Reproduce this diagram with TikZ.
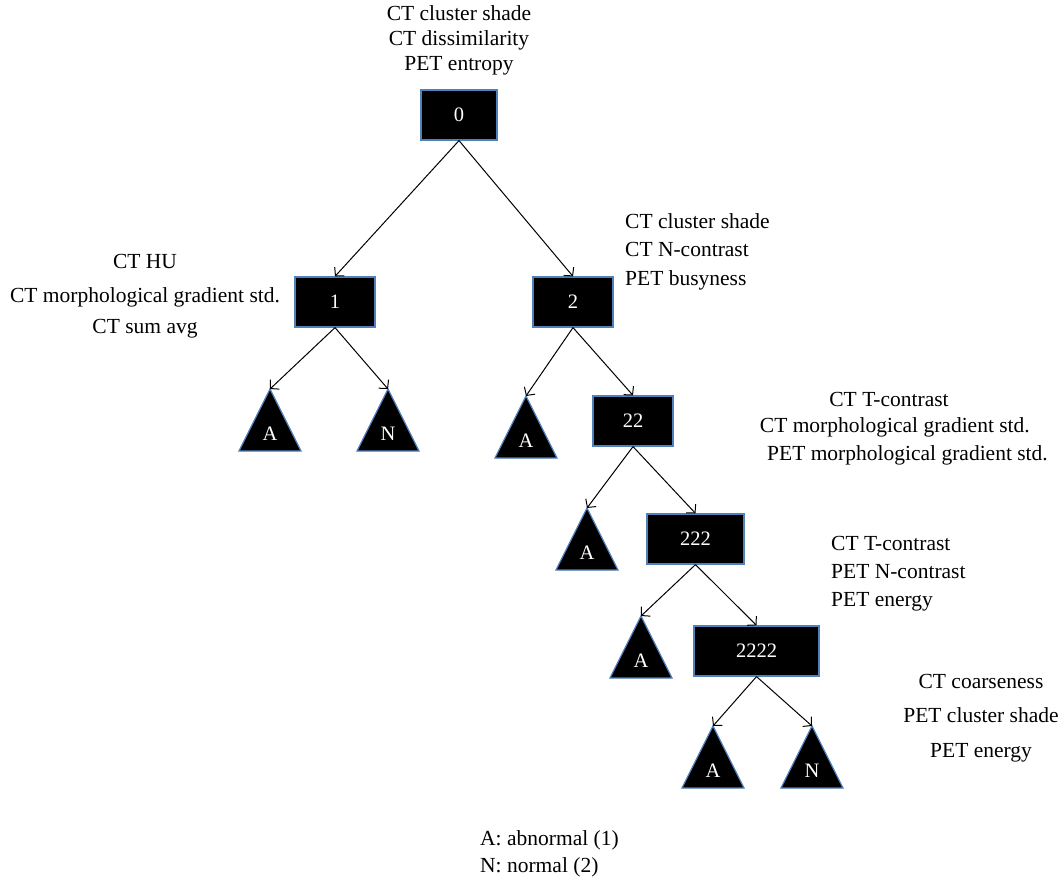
\documentclass[tikz,border=0pt]{standalone}
\usepackage{fontspec}
\setmainfont{Liberation Serif}
\usetikzlibrary{arrows.meta}
\definecolor{boxborder}{HTML}{4F81BD}
\newcommand\lblfont{\fontsize{21.5}{25}\selectfont}
\newcommand\boxfont{\fontsize{20.5}{24}\selectfont}
\newcommand\leafnode[4]{%
  \filldraw[leafshape] (#2,#3) -- (#2-31,#3+62) -- (#2+31,#3+62) -- cycle;
  \coordinate (#1) at (#2,#3);
  \node[leaftext] (#1txt) at (#2,#3+51) {#4};
}
\tikzset{
  box/.style={draw=boxborder, fill=black, line width=1.2pt, text=white,
    inner sep=0pt, minimum height=50pt, font=\boxfont},
  leafshape/.style={fill=black, draw=boxborder, line width=1.2pt, line join=miter},
  leaftext/.style={anchor=base, inner sep=0pt, text=white, font=\boxfont},
  lbl/.style={anchor=base, inner sep=0pt, font=\lblfont},
  lbll/.style={anchor=base west, inner sep=0pt, font=\lblfont},
  lblr/.style={anchor=base east, inner sep=0pt, font=\lblfont},
  conn/.style={-{Straight Barb[length=6pt,width=13pt]}, line width=1pt},
}
\begin{document}
\begin{tikzpicture}[x=1pt,y=-1pt]
\useasboundingbox[fill=white] (0,0) rectangle (1062,877);

% boxes
\node[box, minimum width=76pt] (b0) at (459,115) {0};
\node[box, minimum width=80pt] (b1) at (335,302) {1};
\node[box, minimum width=80pt] (b2) at (573,302) {2};
\node[box, minimum width=80pt] (b22) at (633,421) {22};
\node[box, minimum width=97pt] (b222) at (695.5,539) {222};
\node[box, minimum width=125pt] (b2222) at (756.5,651) {2222};

% leaves
\leafnode{l1a}{270}{389}{A}
\leafnode{l1n}{388}{389}{N}
\leafnode{l2a}{526}{396}{A}
\leafnode{l22a}{587}{508}{A}
\leafnode{l222a}{641}{616}{A}
\leafnode{l2222a}{713}{726}{A}
\leafnode{l2222n}{812}{726}{N}

% connectors
\draw[conn] (b0.south) -- (b1.north);
\draw[conn] (b0.south) -- (b2.north);
\draw[conn] (b1.south) -- (l1a);
\draw[conn] (b1.south) -- (l1n);
\draw[conn] (b2.south) -- (l2a);
\draw[conn] (b2.south) -- (b22.north);
\draw[conn] (b22.south) -- (l22a);
\draw[conn] (b22.south) -- (b222.north);
\draw[conn] (b222.south) -- (l222a);
\draw[conn] (b222.south) -- (b2222.north);
\draw[conn] (b2222.south) -- (l2222a);
\draw[conn] (b2222.south) -- (l2222n);

% labels node 0
\node[lbl] (t0a) at (459,21) {CT cluster shade};
\node[lbl] (t0b) at (459,46) {CT dissimilarity};
\node[lbl] (t0c) at (459,71) {PET entropy};

% labels node 1
\node[lbl] (t1a) at (145,269) {CT HU};
\node[lbl] (t1b) at (145,302) {CT morphological gradient std.};
\node[lbl] (t1c) at (145,333) {CT sum avg};

% labels node 2
\node[lbll] (t2a) at (625,229) {CT cluster shade};
\node[lbll] (t2b) at (625,257) {CT N-contrast};
\node[lbll] (t2c) at (625,285) {PET busyness};

% labels node 22
\node[lbl] (t22a) at (889,406) {CT T-contrast};
\node[lblr] (t22b) at (1030,432) {CT morphological gradient std.};
\node[lblr] (t22c) at (1048,460) {PET morphological gradient std.};

% labels node 222
\node[lbll] (t222a) at (831,550) {CT T-contrast};
\node[lbll] (t222b) at (831,578) {PET N-contrast};
\node[lbll] (t222c) at (831,606) {PET energy};

% labels node 2222
\node[lbl] (t2222a) at (981,688) {CT coarseness};
\node[lbl] (t2222b) at (981,722) {PET cluster shade};
\node[lbl] (t2222c) at (981,757) {PET energy};

% legend
\node[lbll] (leg1) at (480,845) {A: abnormal (1)};
\node[lbll] (leg2) at (480,872) {N: normal (2)};
\end{tikzpicture}
\end{document}
